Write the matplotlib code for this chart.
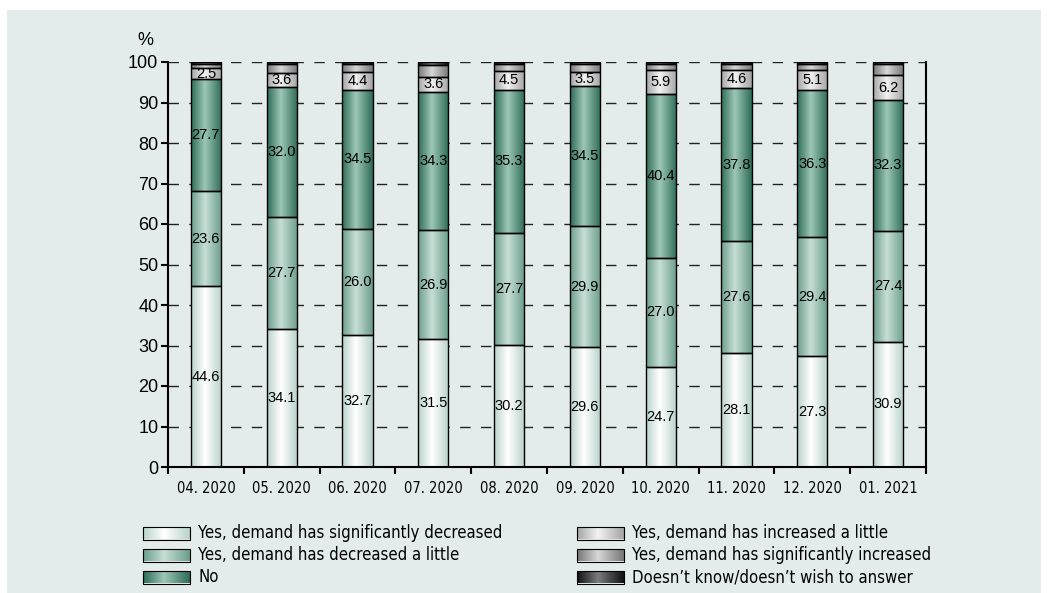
import numpy as np
import matplotlib
matplotlib.use("Agg")
import matplotlib.pyplot as plt
from matplotlib.colors import LinearSegmentedColormap
from matplotlib import font_manager

categories = ["04. 2020", "05. 2020", "06. 2020", "07. 2020", "08. 2020",
              "09. 2020", "10. 2020", "11. 2020", "12. 2020", "01. 2021"]
sig_decreased = [44.6, 34.1, 32.7, 31.5, 30.2, 29.6, 24.7, 28.1, 27.3, 30.9]
dec_little = [23.6, 27.7, 26.0, 26.9, 27.7, 29.9, 27.0, 27.6, 29.4, 27.4]
no_change = [27.7, 32.0, 34.5, 34.3, 35.3, 34.5, 40.4, 37.8, 36.3, 32.3]
inc_little = [2.5, 3.6, 4.4, 3.6, 4.5, 3.5, 5.9, 4.6, 5.1, 6.2]
sig_increased = [1.0, 2.2, 2.0, 2.9, 1.9, 2.1, 1.6, 1.5, 1.5, 2.8]
dont_know = [0.6, 0.4, 0.4, 0.8, 0.4, 0.4, 0.4, 0.4, 0.4, 0.4]
series_names = ["Yes, demand has significantly decreased",
                "Yes, demand has decreased a little",
                "No",
                "Yes, demand has increased a little",
                "Yes, demand has significantly increased",
                "Doesn\u2019t know/doesn\u2019t wish to answer"]
yticks = [0, 10, 20, 30, 40, 50, 60, 70, 80, 90, 100]

series = [sig_decreased, dec_little, no_change, inc_little, sig_increased, dont_know]
labelled = [True, True, True, True, False, False]
grad_colors = [("#b8d2c9", "#ffffff"),
               ("#6b9e8c", "#c6ded5"),
               ("#2e6c57", "#9cc6b6"),
               ("#a4a4a4", "#f2f2f2"),
               ("#777777", "#d6d6d6"),
               ("#111111", "#7a7a7a")]
cmaps = [LinearSegmentedColormap.from_list(f"g{i}", [e, c, e]) for i, (e, c) in enumerate(grad_colors)]

avail = {f.name for f in font_manager.fontManager.ttflist}
if "Liberation Sans Narrow" in avail:
    narrow = ["Liberation Sans Narrow", "DejaVu Sans"]
    stretch = "normal"
else:
    narrow = ["DejaVu Sans"]
    stretch = "condensed"
regular = ["Liberation Sans", "DejaVu Sans"]
plt.rcParams["font.family"] = regular

bg = "#e3ecea"
fig = plt.figure(figsize=(10.48, 5.93), dpi=100)
fig.patch.set_facecolor("white")
panel = fig.add_axes([7 / 1048, 0, (1041 - 7) / 1048, (593 - 10) / 593])
panel.set_facecolor(bg)
panel.set_xticks([])
panel.set_yticks([])
for s in panel.spines.values():
    s.set_visible(False)

ax = fig.add_axes([168 / 1048, 1 - 467 / 593, (926 - 168) / 1048, (467 - 62) / 593])
ax.set_facecolor(bg)

x = np.arange(len(categories))
width = 0.4
grad = np.concatenate([np.linspace(0, 0.5, 45), np.linspace(0.5, 1, 55)]).reshape(1, -1)

bottom = np.zeros(len(categories))
for si, vals in enumerate(series):
    vals = np.array(vals)
    bars = ax.bar(x, vals, width, bottom=bottom, facecolor="none",
                  edgecolor="black", linewidth=1.0, zorder=3)
    for bi, b in enumerate(bars):
        x0, y0 = b.get_x(), b.get_y()
        im = ax.imshow(grad, cmap=cmaps[si], aspect="auto",
                       extent=[x0, x0 + b.get_width(), y0, y0 + b.get_height()],
                       zorder=2, interpolation="bilinear")
        im.set_clip_path(b)
        if labelled[si]:
            ax.text(x[bi], y0 + vals[bi] / 2, f"{vals[bi]:.1f}", ha="center", va="center",
                    fontsize=10.5, zorder=4)
    bottom = bottom + vals

ax.set_xlim(-0.5, len(categories) - 0.5)
ax.set_ylim(0, 100)
ax.set_yticks(yticks)
ax.set_yticklabels([str(t) for t in yticks], fontsize=13)
ax.set_xticks(x)
ax.set_xticklabels(categories, fontsize=10.5, family=narrow, fontstretch=stretch)
ax.tick_params(axis="x", which="major", length=0, pad=10)
ax.set_xticks(np.arange(len(categories) + 1) - 0.5, minor=True)
ax.tick_params(axis="x", which="minor", length=5, width=1.5, direction="out")
ax.tick_params(axis="y", length=5, width=1.5, direction="out", pad=2)
for yv in yticks[1:]:
    ax.axhline(yv, color="#222222", linestyle=(0, (7.5, 7.5)), linewidth=1.0, zorder=1)
ax.spines["top"].set_visible(False)
for s in ["left", "bottom", "right"]:
    ax.spines[s].set_linewidth(1.5)
ax.text(-0.030, 1.054, "%", transform=ax.transAxes, fontsize=13, ha="center", va="center")

# legend
lax = fig.add_axes([0, 0, 1, 1])
lax.set_xlim(0, 1048)
lax.set_ylim(593, 0)
lax.axis("off")
lax.patch.set_alpha(0)
positions = [(143, 533), (143, 555), (143, 577), (577, 533), (577, 555), (577, 577)]
for i, (px, py) in enumerate(positions):
    w, h = 47, 13
    rect = plt.Rectangle((px, py - h / 2), w, h, facecolor="none", edgecolor="black", linewidth=0.8, zorder=3)
    lax.add_patch(rect)
    im = lax.imshow(grad, cmap=cmaps[i], aspect="auto", extent=[px, px + w, py + h / 2, py - h / 2],
                    zorder=2, interpolation="bilinear")
    im.set_clip_path(rect)
    lax.text(px + 55, py, series_names[i], fontsize=12, va="center", ha="left",
             family=narrow, fontstretch=stretch)
lax.set_xlim(0, 1048)
lax.set_ylim(593, 0)

fig.savefig("out.png", dpi=100, facecolor="white")
